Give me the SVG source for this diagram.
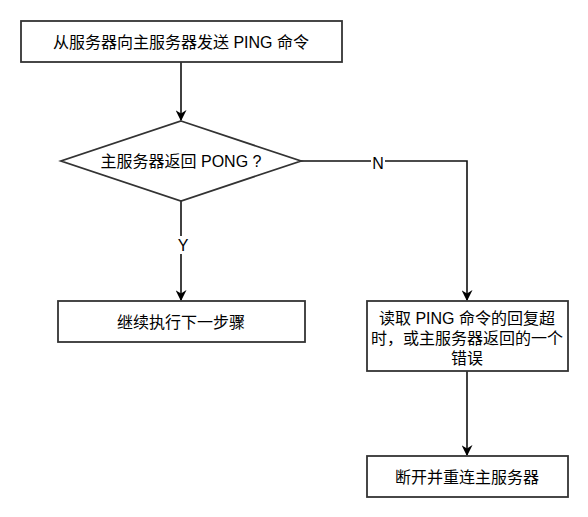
<svg xmlns="http://www.w3.org/2000/svg" width="588" height="517" viewBox="0 0 588 517">
<style>
.box{fill:#fff;stroke:#333;stroke-width:1.8}
.t{font-family:"Liberation Sans","Noto Sans CJK SC",sans-serif;font-size:16px;fill:#000;text-anchor:middle;dominant-baseline:central}
.lbl{font-family:"Liberation Sans","Noto Sans CJK SC",sans-serif;font-size:16px;fill:#000;text-anchor:middle;dominant-baseline:central}
.c{fill:none;stroke:#111;stroke-width:1.6}
</style>
<defs>
<marker id="arr" viewBox="0 0 10 10" refX="9" refY="5" markerWidth="11" markerHeight="11" markerUnits="userSpaceOnUse" orient="auto">
<path d="M0,0 L10,5 L0,10 L3,5 Z" fill="#000"/>
</marker>
</defs>
<rect width="588" height="517" fill="#fff"/>
<g id="connectors">
<path class="c" d="M181,62 V120" marker-end="url(#arr)"/>
<path class="c" d="M181,201 V300" marker-end="url(#arr)"/>
<path class="c" d="M301,161 H467 V300" marker-end="url(#arr)"/>
<path class="c" d="M467,371 V455" marker-end="url(#arr)"/>
<rect x="174" y="236" width="16" height="18" fill="#fff"/>
<text class="lbl" x="183" y="245">Y</text>
<rect x="371" y="153" width="14" height="18" fill="#fff"/>
<text class="lbl" x="378" y="163">N</text>
</g>
<g id="start">
<rect class="box" x="21" y="21" width="321" height="41"/>
<text class="t" x="181" y="42">从服务器向主服务器发送 PING 命令</text>
</g>
<g id="decision">
<polygon class="box" points="181,121 301,161 181,201 61,161"/>
<text class="t" x="181" y="161">主服务器返回 PONG ?</text>
</g>
<g id="continue">
<rect class="box" x="58" y="301" width="247" height="41"/>
<text class="t" x="181" y="322">继续执行下一步骤</text>
</g>
<g id="timeout">
<rect class="box" x="367" y="301" width="201" height="70"/>
<text class="t" x="467" y="318">读取 PING 命令的回复超</text>
<text class="t" x="467" y="338">时，或主服务器返回的一个</text>
<text class="t" x="467" y="358">错误</text>
</g>
<g id="reconnect">
<rect class="box" x="367" y="456" width="201" height="41"/>
<text class="t" x="467" y="477">断开并重连主服务器</text>
</g>
</svg>
